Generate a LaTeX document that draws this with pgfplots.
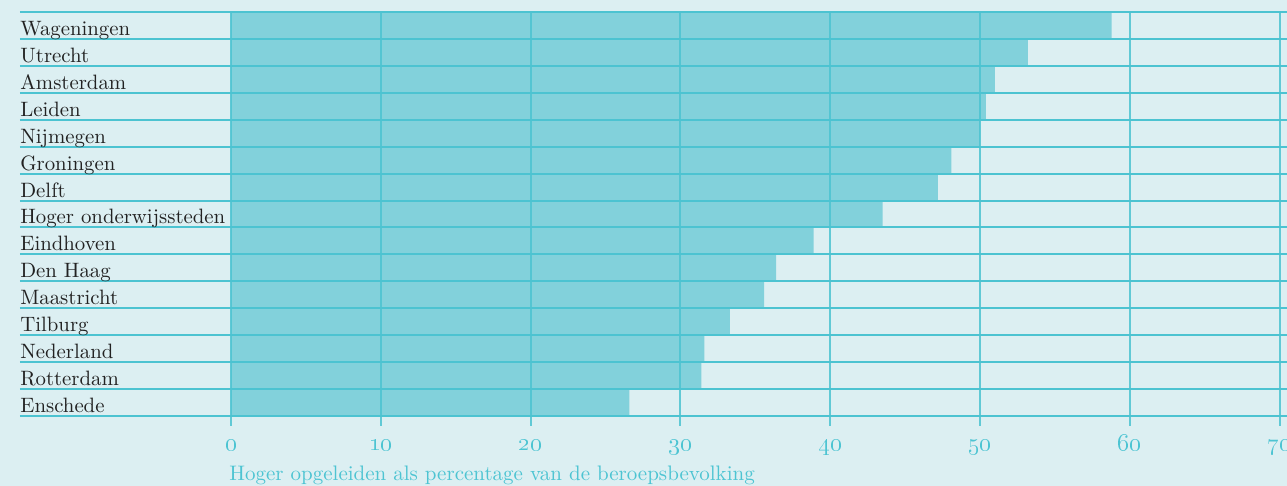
\documentclass[border=0pt]{standalone}
\usepackage{pgfplots}
\pgfplotsset{compat=1.18}
\definecolor{bg}{HTML}{DCEFF2}
\definecolor{barc}{HTML}{82D1DB}
\definecolor{gridc}{HTML}{4CC3D1}
\definecolor{txt}{HTML}{222222}
\definecolor{tickc}{HTML}{4DC4D2}
\begin{document}
\begin{tikzpicture}
\useasboundingbox (0,0) rectangle (643.5pt,243pt);
\fill[bg] (0,0) rectangle (643.5pt,243pt);
\clip (0,0) rectangle (643.5pt,243pt);
\begin{axis}[at={(115.5pt,35pt)}, anchor=south west, scale only axis,
  width=528pt, height=202pt, xmin=0, xmax=70.5, ymin=-0.5, ymax=14.5,
  axis line style={draw=none}, major tick length=0pt, clip=false,
  xtick={0,10,...,70}, ytick=\empty,
  xticklabels={\oldstylenums{0},\oldstylenums{10},\oldstylenums{20},\oldstylenums{30},\oldstylenums{40},\oldstylenums{50},\oldstylenums{60},\oldstylenums{70}},
  xticklabel style={anchor=base, yshift=-17.5pt, inner sep=0pt, text=tickc, font=\fontsize{12}{14}\selectfont},
]
\addplot[xbar, fill=barc, draw=none, bar width=1, bar shift=0pt] coordinates {
(26.6,0) (31.4,1) (31.6,2) (33.3,3) (35.6,4) (36.4,5) (38.9,6) (43.5,7)
(47.2,8) (48.1,9) (50.0,10) (50.4,11) (51.0,12) (53.2,13) (58.8,14)};
\pgfplotsinvokeforeach{-0.5,0.5,...,14.5}{\draw[gridc, line width=1pt] (axis cs:-14.09,#1) -- (axis cs:70.5,#1);}
\pgfplotsinvokeforeach{0,10,...,70}{\draw[gridc, line width=1pt, opacity=0.85] (axis cs:#1,-0.87) -- (axis cs:#1,14.5);}
\begin{scope}[every node/.style={anchor=base west, inner sep=0pt, text=txt, font=\fontsize{10.4}{12}\selectfont, yshift=-5pt}]
\node at (axis cs:-14.09,14) {Wageningen};
\node at (axis cs:-14.09,13) {Utrecht};
\node at (axis cs:-14.09,12) {Amsterdam};
\node at (axis cs:-14.09,11) {Leiden};
\node at (axis cs:-14.09,10) {Nijmegen};
\node at (axis cs:-14.09,9) {Groningen};
\node at (axis cs:-14.09,8) {Delft};
\node at (axis cs:-14.09,7) {Hoger onderwijssteden};
\node at (axis cs:-14.09,6) {Eindhoven};
\node at (axis cs:-14.09,5) {Den Haag};
\node at (axis cs:-14.09,4) {Maastricht};
\node at (axis cs:-14.09,3) {Tilburg};
\node at (axis cs:-14.09,2) {Nederland};
\node at (axis cs:-14.09,1) {Rotterdam};
\node at (axis cs:-14.09,0) {Enschede};
\end{scope}
\node[anchor=base west, inner sep=0pt, text=tickc, font=\fontsize{10.5}{12}\selectfont, yshift=-32.5pt, xshift=-1pt] at (axis cs:0,-0.5) {Hoger opgeleiden als percentage van de beroepsbevolking};
\end{axis}
\end{tikzpicture}
\end{document}
